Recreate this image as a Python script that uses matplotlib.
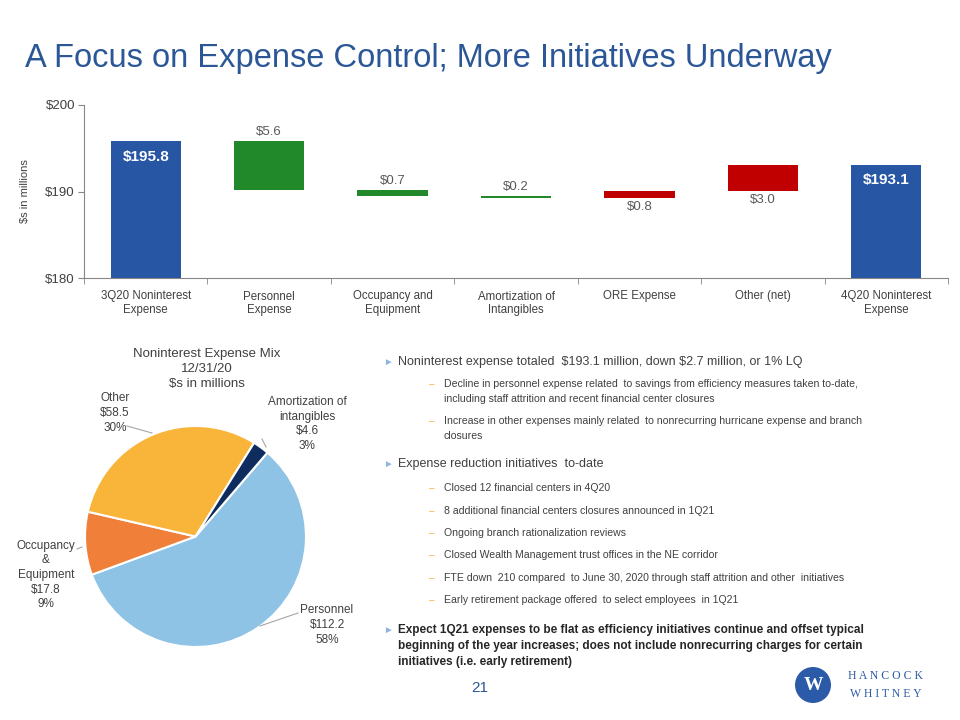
import matplotlib
matplotlib.use("Agg")
import matplotlib.pyplot as plt
from matplotlib.patches import Ellipse
import numpy as np

plt.rcParams['font.family'] = ['Liberation Sans', 'DejaVu Sans']

# ---------------- data ----------------
categories = ["3Q20 Noninterest\nExpense", "Personnel\nExpense", "Occupancy and\nEquipment",
              "Amortization of\nIntangibles", "ORE Expense", "Other (net)", "4Q20 Noninterest\nExpense"]
values = [195.8, -5.6, -0.7, -0.2, 0.8, 3.0, 193.1]
is_total = [True, False, False, False, False, False, True]
yticks = [180, 190, 200]
ytick_labels = ["$180", "$190", "$200"]

pie_labels = ["Personnel", "Occupancy\n&\nEquipment", "Other", "Amortization of\nintangibles"]
pie_values = [112.2, 17.8, 58.5, 4.6]
pie_pcts = ["58%", "9%", "30%", "3%"]

bullet_main = [
    "Noninterest expense totaled  $193.1 million, down $2.7 million, or 1% LQ",
    "Expense reduction initiatives  to-date",
]
sub_1 = [
    "Decline in personnel expense related  to savings from efficiency measures taken to-date,\nincluding staff attrition and recent financial center closures",
    "Increase in other expenses mainly related  to nonrecurring hurricane expense and branch\nclosures",
]
sub_2 = [
    "Closed 12 financial centers in 4Q20",
    "8 additional financial centers closures announced in 1Q21",
    "Ongoing branch rationalization reviews",
    "Closed Wealth Management trust offices in the NE corridor",
    "FTE down  210 compared  to June 30, 2020 through staff attrition and other  initiatives",
    "Early retirement package offered  to select employees  in 1Q21",
]
bullet_bold = ("Expect 1Q21 expenses to be flat as efficiency initiatives continue and offset typical\n"
               "beginning of the year increases; does not include nonrecurring charges for certain\n"
               "initiatives (i.e. early retirement)")

BLUE = "#2656A4"
GREEN = "#21892A"
RED = "#C00000"
TITLE = "#2B5797"
GRAY = "#595959"
DARK = "#404040"

fig = plt.figure(figsize=(9.6, 7.2), dpi=100)
fig.patch.set_facecolor("white")

fig.text(25/960, 1-58/720, "A Focus on Expense Control; More Initiatives Underway",
         fontsize=23.5, color=TITLE, va="center", ha="left", parse_math=False)

# ---------------- waterfall ----------------
ax = fig.add_axes([84/960, 1-278/720, (948-84)/960, (278-105)/720])
x = np.arange(len(categories))
running = 0.0
for i, (v, tot) in enumerate(zip(values, is_total)):
    if tot:
        running = v
        ax.bar(i, v - 180, bottom=180, width=0.57, color=BLUE)
        ax.text(i, v - 0.95, f"${v:.1f}", ha="center", va="top", color="white",
                fontsize=11, fontweight="bold", parse_math=False)
    else:
        new = running + v
        lo, hi = min(running, new), max(running, new)
        col = GREEN if v < 0 else RED
        ax.bar(i, hi - lo, bottom=lo, width=0.57, color=col)
        if v < 0:
            ax.text(i, hi + 0.35, f"${abs(v):.1f}", ha="center", va="bottom",
                    color=GRAY, fontsize=9.5, parse_math=False)
        else:
            ax.text(i, lo - 0.35, f"${abs(v):.1f}", ha="center", va="top",
                    color=GRAY, fontsize=9.5, parse_math=False)
        running = new

ax.set_ylim(180, 200)
ax.set_xlim(-0.5, len(categories) - 0.5)
ax.set_yticks(yticks)
ax.set_yticklabels(ytick_labels, fontsize=9.5, color=DARK)
ax.set_xticks(x)
ax.set_xticklabels(categories, fontsize=8.3, color=DARK, linespacing=1.2)
ax.tick_params(axis="x", which="major", length=0, pad=9)
ax.set_xticks(np.arange(-0.5, len(categories)), minor=True)
ax.tick_params(axis="x", which="minor", length=4.5, color="#868686", direction="out")
ax.tick_params(axis="y", length=4.5, color="#868686", pad=2)
for s in ["top", "right"]:
    ax.spines[s].set_visible(False)
for s in ["left", "bottom"]:
    ax.spines[s].set_color("#868686")
ax.set_ylabel("$s in millions", fontsize=8, color=DARK)
ax.yaxis.set_label_coords((30 - 84)/864, 0.5)

# ---------------- pie ----------------
cx, cy, r = 195.5, 536.5, 110.5
pax = fig.add_axes([(cx - r)/960, 1-(cy + r)/720, 2*r/960, 2*r/720])
pie_colors = ["#8FC3E5", "#F07F3A", "#F9B43A", "#0E2D5E"]
pax.pie(pie_values, colors=pie_colors, startangle=49.4, counterclock=False,
        wedgeprops=dict(edgecolor="white", linewidth=1.5))
pax.set_xlim(-1.0, 1.0)
pax.set_ylim(-1.0, 1.0)
pax.set_aspect("equal")
pax.axis("off")

fig.text(207/960, 1-369/720, "Noninterest Expense Mix\n12/31/20\n$s in millions",
         ha="center", va="center", fontsize=9.5, color=DARK, linespacing=1.3,
         parse_math=False)

label_pos = [(327, 625), (46, 575), (115, 413), (307, 424)]
for lab, val, pct, (lx, ly) in zip(pie_labels, pie_values, pie_pcts, label_pos):
    fig.text(lx/960, 1-ly/720, f"{lab}\n${val:.1f}\n{pct}", ha="center", va="center",
             fontsize=8.5, color=DARK, linespacing=1.3, parse_math=False)

leaders = [((298, 613), (260, 626)), ((77, 549), (82, 547)),
           ((127, 426), (152, 433)), ((262, 439), (266, 447))]
for (x0, y0), (x1, y1) in leaders:
    fig.add_artist(plt.Line2D([x0/960, x1/960], [1-y0/720, 1-y1/720],
                              color="#A6A6A6", linewidth=0.8))

# ---------------- bullets ----------------
def arrow(yp):
    fig.text(383/960, 1-yp/720, "\u25BA", fontsize=7, color="#8DB4E2",
             va="center", ha="left")

def dash(yp):
    fig.text(429/960, 1-yp/720, "\u2013", fontsize=7, color="#F9B43A",
             va="center", ha="left")

arrow(362)
fig.text(398/960, 1-362/720, bullet_main[0], fontsize=9.0, color=DARK, va="center",
         parse_math=False)
for t, yp in zip(sub_1, [391.5, 428.5]):
    dash(yp - 7.5)
    fig.text(444/960, 1-yp/720, t, fontsize=7.6, color=DARK, va="center", linespacing=1.6,
             parse_math=False)

arrow(464)
fig.text(398/960, 1-464/720, bullet_main[1], fontsize=9.0, color=DARK, va="center",
         parse_math=False)
for t, yp in zip(sub_2, [488, 511, 533, 555, 578, 600]):
    dash(yp)
    fig.text(444/960, 1-yp/720, t, fontsize=7.6, color=DARK, va="center", parse_math=False)

arrow(630)
fig.text(398/960, 1-646/720, bullet_bold, fontsize=8.45, color="#262626", va="center",
         fontweight="bold", linespacing=1.4, parse_math=False)

# ---------------- footer ----------------
fig.text(480/960, 1-688/720, "21", fontsize=11, color=TITLE, ha="center", va="center")

logo = Ellipse((813/960, 1-685/720), 36/960, 36/720, transform=fig.transFigure,
               facecolor="#2B5BA8", edgecolor="none")
fig.add_artist(logo)
fig.text(813/960, 1-685/720, "W", fontsize=14, color="white", ha="center", va="center",
         fontweight="bold", family="Liberation Serif")
fig.text(886/960, 1-676/720, "H A N C O C K", fontsize=8.5, color="#2B5BA8",
         ha="center", va="center", family="Liberation Serif")
fig.text(886/960, 1-694/720, "W H I T N E Y", fontsize=8.5, color="#2B5BA8",
         ha="center", va="center", family="Liberation Serif")

fig.savefig("out.png", dpi=100, facecolor="white")
